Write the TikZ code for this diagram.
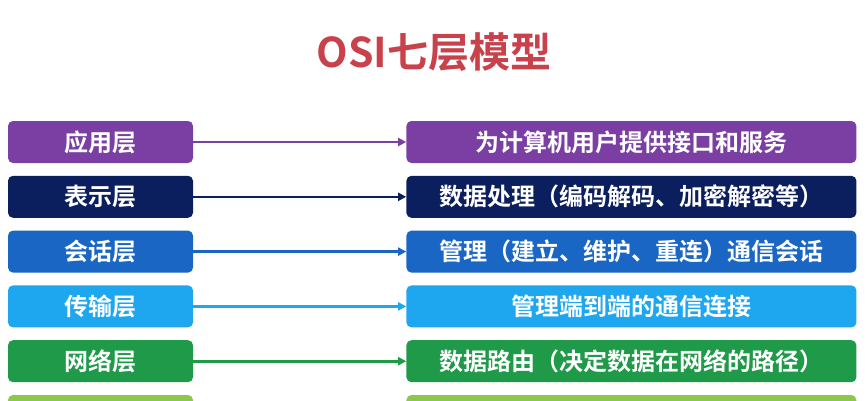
\documentclass[tikz,border=0pt]{standalone}
\usepackage{fontspec}
\newfontfamily\cjk{Noto Sans CJK SC}[BoldFont={* Bold}]
\usetikzlibrary{positioning,arrows.meta}
\definecolor{titlered}{HTML}{C8414B}
\definecolor{appcol}{HTML}{7B3FA3}
\definecolor{precol}{HTML}{0B1E5E}
\definecolor{sescol}{HTML}{1A66C4}
\definecolor{tracol}{HTML}{1EA7EE}
\definecolor{netcol}{HTML}{1E9A48}
\definecolor{lnkcol}{HTML}{8CC84B}

\begin{document}
\begin{tikzpicture}[x=1pt,y=-1pt,
    layer/.style={rounded corners=5pt,minimum width=185pt,minimum height=42pt,
      inner sep=0pt,text=white,font=\cjk\bfseries\fontsize{24}{24}\selectfont},
    duty/.style={layer,minimum width=450pt},
    link/.style={line width=2.6pt,-{Triangle[length=8pt,width=8pt]}}
  ]
  \useasboundingbox (0,0) rectangle (866,400);
  \clip (0,0) rectangle (866,400);

  \node[font=\cjk\bfseries\fontsize{41}{41}\selectfont,text=titlered] (title)
    at (434,52) {OSI七层模型};

  % layers on the left
  \node[layer,fill=appcol] (app) at (100.5,142) {应用层};
  \node[layer,fill=precol,below=12.4pt of app] (pre) {表示层};
  \node[layer,fill=sescol,below=12.4pt of pre] (ses) {会话层};
  \node[layer,fill=tracol,below=12.4pt of ses] (tra) {传输层};
  \node[layer,fill=netcol,below=12.4pt of tra] (net) {网络层};
  \node[layer,fill=lnkcol,below=12.4pt of net] (lnk) {};

  % what each layer does
  \node[duty,fill=appcol,right=213pt of app] (appd) {为计算机用户提供接口和服务};
  \node[duty,fill=precol,right=213pt of pre] (pred) {数据处理（编码解码、加密解密等）};
  \node[duty,fill=sescol,right=213pt of ses] (sesd) {管理（建立、维护、重连）通信会话};
  \node[duty,fill=tracol,right=213pt of tra] (trad) {管理端到端的通信连接};
  \node[duty,fill=netcol,right=213pt of net] (netd) {数据路由（决定数据在网络的路径）};
  \node[duty,fill=lnkcol,right=213pt of lnk] (lnkd) {};

  \draw[link,appcol] (app) -- (appd);
  \draw[link,precol] (pre) -- (pred);
  \draw[link,sescol] (ses) -- (sesd);
  \draw[link,tracol] (tra) -- (trad);
  \draw[link,netcol] (net) -- (netd);
\end{tikzpicture}
\end{document}
